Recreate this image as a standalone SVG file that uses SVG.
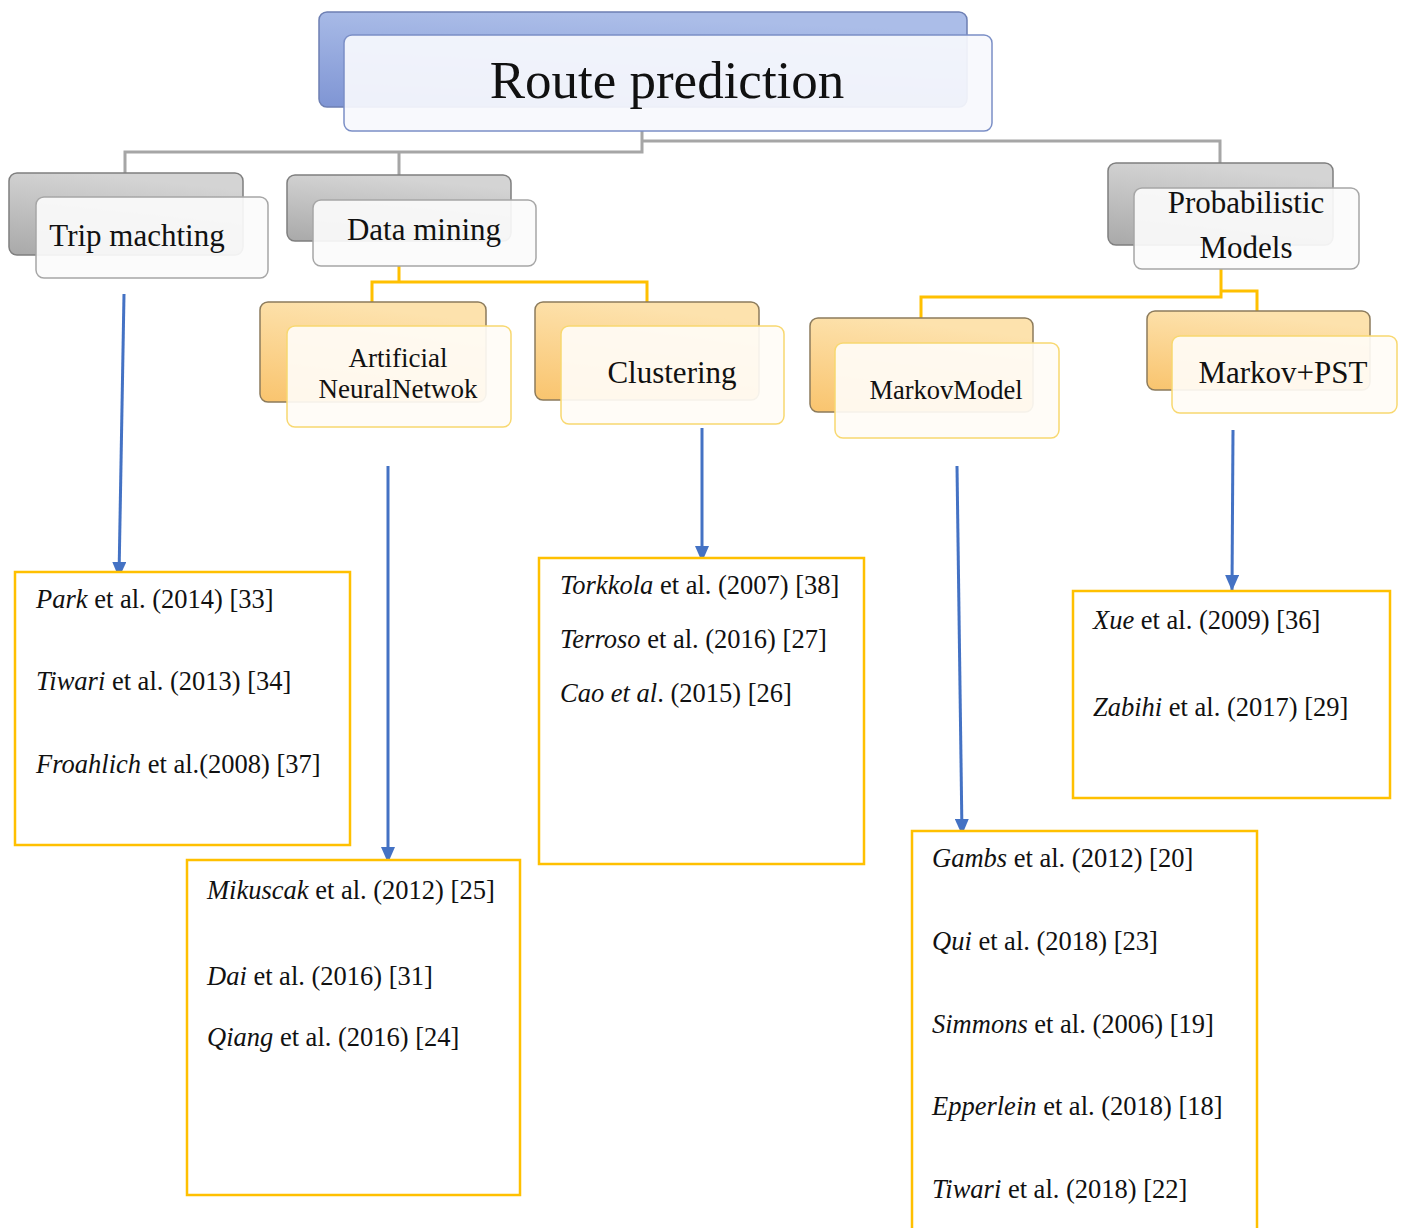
<svg xmlns="http://www.w3.org/2000/svg" width="1403" height="1228" viewBox="0 0 1403 1228">
<defs>
<linearGradient id="gBlue" x1="0" y1="1" x2="0.3" y2="0"><stop offset="0" stop-color="#7f95d4"/><stop offset="1" stop-color="#abbde8"/></linearGradient>
<linearGradient id="gGray" x1="0" y1="1" x2="0.3" y2="0"><stop offset="0" stop-color="#a9a9a9"/><stop offset="1" stop-color="#d4d4d4"/></linearGradient>
<linearGradient id="gOrange" x1="0" y1="1" x2="0.3" y2="0"><stop offset="0" stop-color="#f9c46e"/><stop offset="1" stop-color="#fde2ad"/></linearGradient>
<marker id="arr" viewBox="0 0 16 14" refX="15" refY="7" markerWidth="16" markerHeight="14" orient="auto" markerUnits="userSpaceOnUse"><path d="M0,0 L16,7 L0,14 z" fill="#4472c4"/></marker>
</defs>
<style>
.bkB{fill:url(#gBlue);stroke:#6d7fb3;stroke-width:1.5}
.bkG{fill:url(#gGray);stroke:#7f7f7f;stroke-width:1.5}
.bkO{fill:url(#gOrange);stroke:#8c7b5c;stroke-width:1.5}
.frB{fill:#f7f9fd;fill-opacity:0.92;stroke:#7b8fc6;stroke-width:1.5}
.frG{fill:#fbfbfb;fill-opacity:0.92;stroke:#a6a6a6;stroke-width:1.5}
.frO{fill:#fffcf6;fill-opacity:0.92;stroke:#f8d870;stroke-width:1.5}
.lab{font-family:"Liberation Serif","Times New Roman",serif;fill:#111;text-anchor:middle}
.ref{font-family:"Liberation Serif","Times New Roman",serif;fill:#111;font-size:26.5px}
.it{font-style:italic}
.gl{fill:none;stroke:#a6a6a6;stroke-width:3}
.yl{fill:none;stroke:#ffc000;stroke-width:3}
.ar{fill:none;stroke:#4472c4;stroke-width:3;marker-end:url(#arr)}
.box{fill:#fff;stroke:#ffc000;stroke-width:2.5}
</style>
<rect width="1403" height="1228" fill="#fff"/>
<g id="connectors">
<path class="gl" d="M642,131 V152 H125 V174 M399,152 V175 M642,141 H1220 V163"/>
<path class="yl" d="M399,266 V282 M372,302 V282 H647 V302 M1221,269 V297 H921 V318 M1221,291 H1257 V311"/>
<path class="ar" d="M124,294 L119,577"/>
<path class="ar" d="M388,466 L388,862"/>
<path class="ar" d="M702,428 L702,561"/>
<path class="ar" d="M957,466 L962,834"/>
<path class="ar" d="M1233,430 L1232,590"/>
</g>
<g id="root">
<rect class="bkB" x="319" y="12" width="648" height="95" rx="8"/>
<rect class="frB" x="344" y="35" width="648" height="96" rx="8"/>
<text class="lab" x="667" y="98" font-size="53">Route prediction</text>
</g>
<g id="trip">
<rect class="bkG" x="9" y="173" width="234" height="82" rx="8"/>
<rect class="frG" x="36" y="197" width="232" height="81" rx="8"/>
<text class="lab" x="137" y="246" font-size="31">Trip machting</text>
</g>
<g id="datamining">
<rect class="bkG" x="287" y="175" width="224" height="66" rx="8"/>
<rect class="frG" x="313" y="200" width="223" height="66" rx="8"/>
<text class="lab" x="424" y="240" font-size="31">Data mining</text>
</g>
<g id="probabilistic">
<rect class="bkG" x="1108" y="163" width="225" height="82" rx="8"/>
<rect class="frG" x="1134" y="188" width="225" height="81" rx="8"/>
<text class="lab" x="1246" y="213" font-size="31">Probabilistic</text>
<text class="lab" x="1246" y="258" font-size="31">Models</text>
</g>
<g id="ann">
<rect class="bkO" x="260" y="302" width="226" height="100" rx="8"/>
<rect class="frO" x="287" y="326" width="224" height="101" rx="8"/>
<text class="lab" x="398" y="367" font-size="27">Artificial</text>
<text class="lab" x="398" y="398" font-size="27">NeuralNetwok</text>
</g>
<g id="clustering">
<rect class="bkO" x="535" y="302" width="224" height="98" rx="8"/>
<rect class="frO" x="561" y="326" width="223" height="98" rx="8"/>
<text class="lab" x="672" y="383" font-size="31">Clustering</text>
</g>
<g id="markovmodel">
<rect class="bkO" x="810" y="318" width="223" height="94" rx="8"/>
<rect class="frO" x="835" y="343" width="224" height="95" rx="8"/>
<text class="lab" x="946" y="399" font-size="26.5">MarkovModel</text>
</g>
<g id="markovpst">
<rect class="bkO" x="1147" y="311" width="223" height="79" rx="8"/>
<rect class="frO" x="1172" y="336" width="225" height="77" rx="8"/>
<text class="lab" x="1283" y="383" font-size="31">Markov+PST</text>
</g>
<g id="refs-trip">
<rect class="box" x="15" y="572" width="335" height="273"/>
<text class="ref" x="36" y="608"><tspan class="it">Park</tspan> et al. (2014) [33]</text>
<text class="ref" x="36" y="690"><tspan class="it">Tiwari</tspan> et al. (2013) [34]</text>
<text class="ref" x="36" y="773"><tspan class="it">Froahlich</tspan> et al.(2008) [37]</text>
</g>
<g id="refs-ann">
<rect class="box" x="187" y="860" width="333" height="335"/>
<text class="ref" x="207" y="899"><tspan class="it">Mikuscak</tspan> et al. (2012) [25]</text>
<text class="ref" x="207" y="985"><tspan class="it">Dai</tspan> et al. (2016) [31]</text>
<text class="ref" x="207" y="1046"><tspan class="it">Qiang</tspan> et al. (2016) [24]</text>
</g>
<g id="refs-clustering">
<rect class="box" x="539" y="558" width="325" height="306"/>
<text class="ref" x="560" y="594"><tspan class="it">Torkkola</tspan> et al. (2007) [38]</text>
<text class="ref" x="560" y="648"><tspan class="it">Terroso</tspan> et al. (2016) [27]</text>
<text class="ref" x="560" y="702"><tspan class="it">Cao et al</tspan>. (2015) [26]</text>
</g>
<g id="refs-markov">
<rect class="box" x="912" y="831" width="345" height="420"/>
<text class="ref" x="932" y="867"><tspan class="it">Gambs</tspan> et al. (2012) [20]</text>
<text class="ref" x="932" y="950"><tspan class="it">Qui</tspan> et al. (2018) [23]</text>
<text class="ref" x="932" y="1033"><tspan class="it">Simmons</tspan> et al. (2006) [19]</text>
<text class="ref" x="932" y="1115"><tspan class="it">Epperlein</tspan> et al. (2018) [18]</text>
<text class="ref" x="932" y="1198"><tspan class="it">Tiwari</tspan> et al. (2018) [22]</text>
</g>
<g id="refs-pst">
<rect class="box" x="1073" y="591" width="317" height="207"/>
<text class="ref" x="1093" y="629"><tspan class="it">Xue</tspan> et al. (2009) [36]</text>
<text class="ref" x="1093" y="716"><tspan class="it">Zabihi</tspan> et al. (2017) [29]</text>
</g>
</svg>
